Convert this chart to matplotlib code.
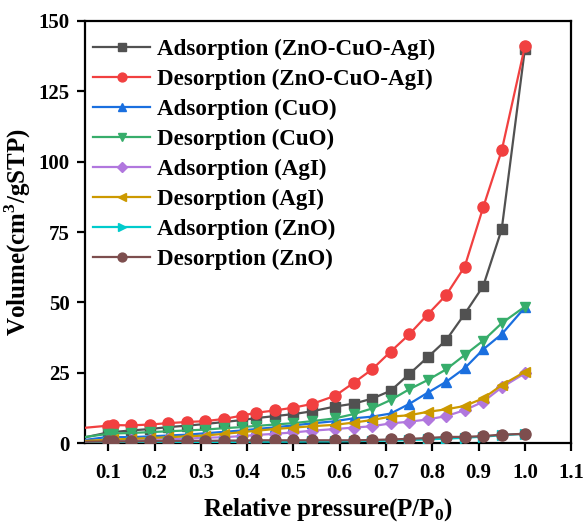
import matplotlib
matplotlib.use("Agg")
import matplotlib.pyplot as plt

plt.rcParams['font.family'] = ['Liberation Serif', 'DejaVu Serif']
plt.rcParams['font.weight'] = 'bold'
plt.rcParams['mathtext.fontset'] = 'custom'
plt.rcParams['mathtext.rm'] = 'Liberation Serif:bold'
plt.rcParams['mathtext.bf'] = 'Liberation Serif:bold'

# Relative pressure grids
x_ads = [0.02, 0.10, 0.15, 0.19, 0.23, 0.27, 0.31, 0.35, 0.39, 0.42, 0.46, 0.50,
         0.54, 0.59, 0.63, 0.67, 0.71, 0.75, 0.79, 0.83, 0.87, 0.91, 0.95, 1.00]
x_des = [0.02, 0.10, 0.11, 0.15, 0.19, 0.23, 0.27, 0.31, 0.35, 0.39, 0.42, 0.46, 0.50,
         0.54, 0.59, 0.63, 0.67, 0.71, 0.75, 0.79, 0.83, 0.87, 0.91, 0.95, 1.00]

ads_zca = [1.0, 3.8, 4.5, 5.0, 5.7, 6.2, 6.8, 7.5, 8.2, 8.9, 9.6, 10.3,
           11.3, 13.0, 14.0, 15.8, 18.6, 24.5, 30.5, 36.6, 45.9, 55.8, 76.0, 140.0]
des_zca = [5.0, 6.2, 6.4, 6.3, 6.6, 7.1, 7.5, 7.8, 8.6, 9.8, 10.8, 11.6, 12.6,
           13.9, 16.8, 21.4, 26.2, 32.5, 38.6, 45.7, 52.6, 62.7, 83.8, 104.0, 141.0]
ads_cuo = [0.5, 2.2, 2.1, 2.4, 2.7, 3.0, 3.5, 4.0, 4.5, 5.0, 5.6, 6.3,
           7.0, 7.8, 8.8, 9.4, 10.5, 13.9, 17.9, 21.8, 26.6, 33.3, 38.7, 48.2]
des_cuo = [1.5, 3.3, 3.4, 3.6, 3.9, 4.2, 4.5, 4.8, 5.3, 5.7, 6.1, 6.6, 7.1,
           7.8, 8.8, 10.3, 12.3, 15.3, 19.1, 22.4, 26.2, 31.3, 36.4, 42.6, 48.5]
ads_agi = [0.3, 0.9, 1.0, 1.2, 1.4, 1.6, 1.9, 2.1, 2.5, 2.9, 3.3, 3.8,
           4.4, 5.0, 5.5, 6.0, 7.0, 7.6, 8.4, 9.6, 11.7, 14.7, 19.8, 24.8]
des_agi = [0.5, 1.2, 1.3, 1.5, 1.8, 2.1, 2.4, 2.7, 3.3, 3.9, 4.4, 5.0, 5.5,
           6.0, 6.5, 7.3, 8.2, 9.4, 9.9, 11.1, 12.0, 13.2, 15.9, 20.6, 25.3]
ads_zno = [0.1, 0.3, 0.3, 0.3, 0.3, 0.4, 0.4, 0.4, 0.4, 0.5, 0.5, 0.5,
           0.6, 0.6, 0.7, 0.8, 0.9, 1.1, 1.3, 1.6, 1.9, 2.3, 2.8, 3.3]
des_zno = [0.4, 0.6, 0.6, 0.6, 0.7, 0.7, 0.8, 0.8, 0.9, 0.9, 1.0, 1.0, 1.0,
           1.0, 1.0, 1.0, 1.1, 1.3, 1.5, 1.8, 2.2, 2.2, 2.5, 3.0, 3.3]

labels = ['Adsorption (ZnO-CuO-AgI)', 'Desorption (ZnO-CuO-AgI)',
          'Adsorption (CuO)', 'Desorption (CuO)',
          'Adsorption (AgI)', 'Desorption (AgI)',
          'Adsorption (ZnO)', 'Desorption (ZnO)']
colors = ['#515151', '#F14040', '#1A6FDF', '#37AD6B',
          '#B177DE', '#CC9900', '#00CBCC', '#7D4E4E']
markers = ['s', 'o', '^', 'v', 'D', '<', '>', 'o']
msizes = [6.5, 8, 7.5, 7.5, 6, 7.5, 7.5, 8]

series = [(x_ads, ads_zca), (x_des, des_zca), (x_ads, ads_cuo), (x_des, des_cuo),
          (x_ads, ads_agi), (x_des, des_agi), (x_ads, ads_zno), (x_des, des_zno)]

fig = plt.figure(figsize=(5.87, 5.25), dpi=100)
ax = fig.add_axes([0.145, 0.156, 0.828, 0.804])

order = [6, 7, 4, 5, 2, 3, 0, 1]
handles = {}
for i in order:
    xs, ys = series[i]
    h, = ax.plot(xs, ys, color=colors[i], marker=markers[i], markersize=msizes[i],
                 linewidth=1.6, label=labels[i], zorder=3 + i * 0.1)
    handles[i] = h

ax.set_xlim(0.05, 1.1)
ax.set_ylim(0, 150)
ax.set_xticks([0.1, 0.2, 0.3, 0.4, 0.5, 0.6, 0.7, 0.8, 0.9, 1.0, 1.1])
ax.set_xticklabels(['0.1', '0.2', '0.3', '0.4', '0.5', '0.6', '0.7', '0.8', '0.9', '1.0', '1.1'])
ax.set_yticks([0, 25, 50, 75, 100, 125, 150])

for s in ax.spines.values():
    s.set_linewidth(1.6)
ax.tick_params(axis='both', direction='out', length=6, width=1.6,
               labelsize=15, pad=5)
ax.tick_params(axis='x', pad=8)
for lab in ax.get_xticklabels() + ax.get_yticklabels():
    lab.set_fontweight('bold')

ax.set_xlabel('Relative pressure(P/P$_\\mathregular{0}$)', fontsize=18, fontweight='bold', labelpad=10)
ax.set_ylabel('Volume(cm$^\\mathregular{3}$/gSTP)', fontsize=18, fontweight='bold', labelpad=4)

leg_handles = [handles[i] for i in range(8)]
leg = ax.legend(leg_handles, labels, loc='upper left', frameon=False,
                fontsize=16.6, handlelength=2.45, handletextpad=0.3,
                labelspacing=0.385, borderaxespad=0.3, numpoints=1,
                markerscale=0.8, bbox_to_anchor=(-0.016, 0.997))
for t in leg.get_texts():
    t.set_fontweight('bold')

fig.savefig('out.png', dpi=100)
